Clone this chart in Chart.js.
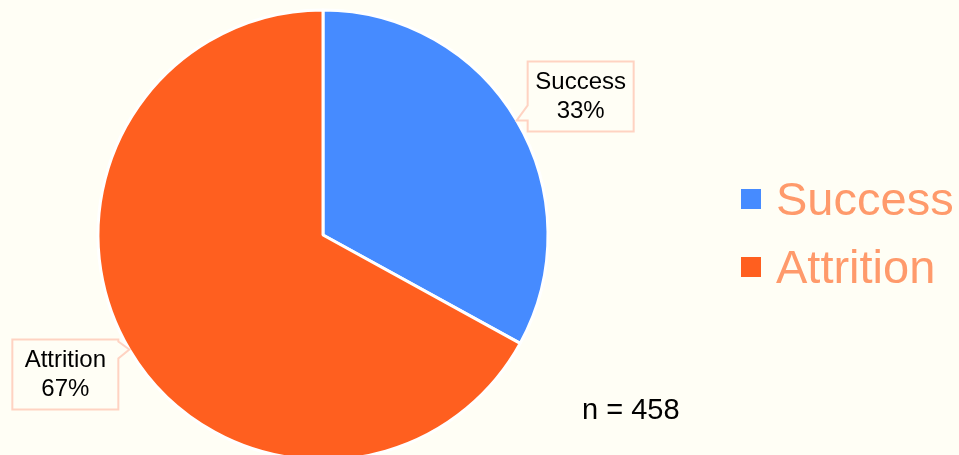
<!DOCTYPE html>
<html>
<head>
<meta charset="utf-8">
<script src="https://cdn.jsdelivr.net/npm/chart.js@4/dist/chart.umd.min.js"></script>
<style>
  html, body { margin:0; padding:0; width:959px; height:455px; overflow:hidden; background:#FFFEF5; font-family:"Liberation Sans", Arial, sans-serif; }
  #wrap { position:absolute; left:0; top:0; width:959px; height:470px; }
  #legend { position:absolute; left:741px; top:176px; }
  .li { display:flex; align-items:center; height:46px; margin-bottom:22px; }
  .sw { width:20px; height:20px; margin-right:15px; }
  .lt { font-size:47px; color:#FF9A6B; line-height:46px; }
  #note { position:absolute; left:582px; top:393px; font-size:29px; color:#000; }
</style>
</head>
<body>
<div id="wrap"><canvas id="c"></canvas></div>
<div id="legend"></div>
<div id="note"></div>
<script>
const categories = ["Success", "Attrition"];
const percentValues = [33, 67];
const colors = ["#468BFF", "#FF5F1F"];
const sampleSize = 458;

document.getElementById('note').textContent = 'n = ' + sampleSize;
const lg = document.getElementById('legend');
categories.forEach((c, i) => {
  const d = document.createElement('div'); d.className = 'li';
  const s = document.createElement('div'); s.className = 'sw'; s.style.background = colors[i];
  const t = document.createElement('div'); t.className = 'lt'; t.textContent = c;
  d.appendChild(s); d.appendChild(t); lg.appendChild(d);
});

const calloutPlugin = {
  id: 'callouts',
  afterDatasetsDraw(chart) {
    const ctx = chart.ctx;
    const meta = chart.getDatasetMeta(0);
    ctx.save();
    ctx.font = '24px "Liberation Sans", Arial, sans-serif';
    ctx.textAlign = 'center';
    ctx.textBaseline = 'middle';
    meta.data.forEach((arc, i) => {
      const p = arc.getProps(['x','y','startAngle','endAngle','outerRadius'], true);
      const mid = (p.startAngle + p.endAngle) / 2;
      const tx = p.x + Math.cos(mid) * p.outerRadius;
      const ty = p.y + Math.sin(mid) * p.outerRadius;
      const w = 106, h = 70;
      const right = Math.cos(mid) >= 0;
      let bx, by;
      ctx.beginPath();
      if (right) {
        bx = tx + 11; by = ty - 59;
        ctx.moveTo(bx, by);
        ctx.lineTo(bx + w, by);
        ctx.lineTo(bx + w, by + h);
        ctx.lineTo(bx, by + h);
        ctx.lineTo(bx, ty);
        ctx.lineTo(tx, ty);
        ctx.lineTo(bx, ty - 15);
        ctx.closePath();
      } else {
        bx = tx - 11 - w; by = ty - 10;
        ctx.moveTo(bx, by);
        ctx.lineTo(bx + w, by);
        ctx.lineTo(bx + w, ty - 8);
        ctx.lineTo(tx, ty);
        ctx.lineTo(bx + w, ty + 9);
        ctx.lineTo(bx + w, by + h);
        ctx.lineTo(bx, by + h);
        ctx.closePath();
      }
      ctx.fillStyle = '#FFFEF5';
      ctx.fill();
      ctx.strokeStyle = '#FFD3C2';
      ctx.lineWidth = 2;
      ctx.stroke();
      ctx.fillStyle = '#000';
      ctx.fillText(categories[i], bx + w / 2, by + h / 2 - 14);
      ctx.fillText(percentValues[i] + '%', bx + w / 2, by + h / 2 + 15);
    });
    ctx.restore();
  }
};

new Chart(document.getElementById('c'), {
  type: 'pie',
  data: {
    labels: categories,
    datasets: [{
      data: percentValues,
      backgroundColor: colors,
      borderColor: '#FFFFFF',
      borderWidth: 3
    }]
  },
  options: {
    responsive: true,
    maintainAspectRatio: false,
    animation: false,
    layout: { padding: { top: 8.5, bottom: 8.5, left: 0, right: 313 } },
    plugins: {
      legend: { display: false },
      tooltip: { enabled: false }
    }
  },
  plugins: [calloutPlugin]
});
</script>
</body>
</html>
